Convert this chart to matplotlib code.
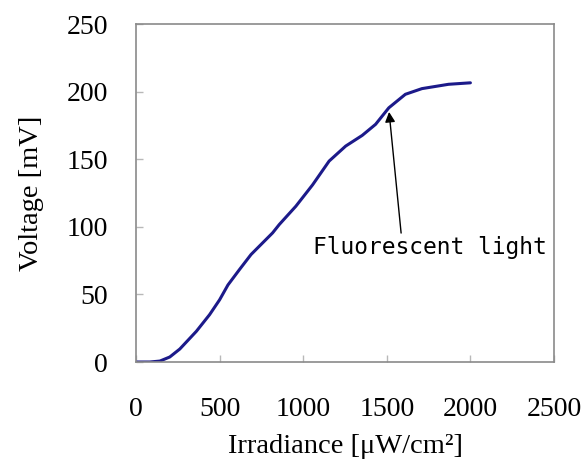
import matplotlib
matplotlib.use("Agg")
import matplotlib.pyplot as plt

irradiance = [0, 83, 143, 202, 262, 361, 440, 500, 550, 619, 688, 817, 857, 956,
              1056, 1155, 1254, 1353, 1433, 1512, 1611, 1710, 1869, 2000]
voltage = [0, 0, 0.7, 3.7, 9.6, 22.7, 35, 46, 57, 68.4, 79.5, 95.5, 101.7, 115.2,
           131, 148.6, 159.7, 167.6, 175.8, 188, 198, 202.2, 205.4, 206.5]

xticks = [0, 500, 1000, 1500, 2000, 2500]
yticks = [0, 50, 100, 150, 200, 250]

fig = plt.figure(figsize=(5.84, 4.62), dpi=100)
ax = fig.add_axes([136/584, 1 - 362/462, (554-136)/584, (362-24)/462])

ax.plot(irradiance, voltage, color='#1c1a8a', lw=2.2, solid_capstyle='round',
        solid_joinstyle='round')
ax.set_xlim(0, 2500)
ax.set_ylim(0, 250)
ax.set_xticks(xticks)
ax.set_yticks(yticks)

serif = ['Liberation Serif', 'DejaVu Serif']
ax.set_xticklabels([str(t) for t in xticks], family=serif, fontsize=20)
ax.set_yticklabels([str(t) for t in yticks], family=serif, fontsize=20)
ax.tick_params(axis='x', direction='in', length=5, width=1, color='#b8b8b8', pad=25)
ax.tick_params(axis='y', direction='in', length=5, width=1, color='#b8b8b8', pad=20)
for s in ax.spines.values():
    s.set_color('#8a8a8a')
    s.set_linewidth(1.2)

ax.set_xlabel('Irradiance [μW/cm²]', family=serif, fontsize=20.5, labelpad=9)
ax.set_ylabel('Voltage [mV]', family=serif, fontsize=20.5, labelpad=16)

ax.annotate('Fluorescent light', xy=(1512, 187), xytext=(1056, 80),
            family=['DejaVu Sans Mono'], fontsize=16.5, ha='left', va='baseline',
            arrowprops=dict(arrowstyle='-|>', color='black', lw=1,
                            mutation_scale=15, shrinkA=0, shrinkB=2,
                            relpos=(0.38, 1.0)))

fig.savefig('out.png', dpi=100)
